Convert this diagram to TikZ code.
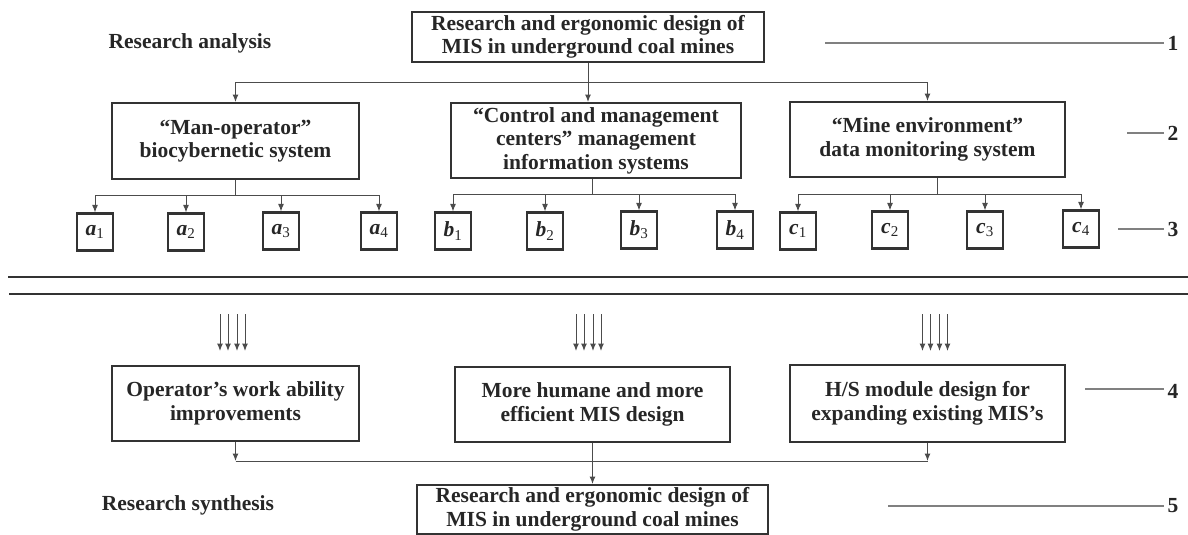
\documentclass[tikz,border=0pt]{standalone}
\usepackage{fontspec}
\setmainfont{Liberation Serif}
\usetikzlibrary{arrows.meta}

\begin{document}
\begin{tikzpicture}[x=1pt,y=-1pt,>={Latex[length=7.5pt,width=6pt]}]
\tikzstyle{every node} = [rectangle, font=\fontsize{21.5}{23.5}\selectfont\bfseries, text=black!85]
\tikzstyle{box} = [draw=black!80, line width=2pt, align=center, inner sep=0pt]
\tikzstyle{leaf} = [draw=black!80, line width=2.2pt, minimum width=36pt, minimum height=37pt, inner sep=0pt]
\tikzstyle{link} = [draw=black!70, line width=1pt]
\tikzstyle{level} = [draw=black!50, line width=1.5pt]
\tikzstyle{rule} = [draw=black!80, line width=2.5pt]
\useasboundingbox (0,0) rectangle (1188,535);

\node (analysis) at (190,43) {Research analysis};
\node (synthesis) at (188,505) {Research synthesis};

\node[box, minimum width=352pt, minimum height=50pt] (top) at (588,37) {Research and ergonomic design of\\MIS in underground coal mines};
\node[box, minimum width=247pt, minimum height=76pt] (sysA) at (235.5,141) {``Man-operator''\\biocybernetic system};
\node[box, minimum width=290pt, minimum height=75pt] (sysB) at (596,140.5) {``Control and management\\centers'' management\\information systems};
\node[box, minimum width=275pt, minimum height=75pt] (sysC) at (927.5,139.5) {``Mine environment''\\data monitoring system};

\node[leaf] (a1) at (95,232) {\textit{a}\textsubscript{\mdseries 1}};
\node[leaf] (a2) at (186,232) {\textit{a}\textsubscript{\mdseries 2}};
\node[leaf] (a3) at (281,231) {\textit{a}\textsubscript{\mdseries 3}};
\node[leaf] (a4) at (379,231) {\textit{a}\textsubscript{\mdseries 4}};
\node[leaf] (b1) at (453,231) {\textit{b}\textsubscript{\mdseries 1}};
\node[leaf] (b2) at (545,231) {\textit{b}\textsubscript{\mdseries 2}};
\node[leaf] (b3) at (639,230) {\textit{b}\textsubscript{\mdseries 3}};
\node[leaf] (b4) at (735,230) {\textit{b}\textsubscript{\mdseries 4}};
\node[leaf] (c1) at (798,231) {\textit{c}\textsubscript{\mdseries 1}};
\node[leaf] (c2) at (890,230) {\textit{c}\textsubscript{\mdseries 2}};
\node[leaf] (c3) at (985,230) {\textit{c}\textsubscript{\mdseries 3}};
\node[leaf] (c4) at (1081,229) {\textit{c}\textsubscript{\mdseries 4}};

\node[box, minimum width=247pt, minimum height=75pt] (op) at (235.5,403.5) {Operator’s work ability\\improvements};
\node[box, minimum width=275pt, minimum height=75pt] (hum) at (592.5,404.5) {More humane and more\\efficient MIS design};
\node[box, minimum width=275pt, minimum height=77pt] (hs) at (927.5,403.5) {H/S module design for\\expanding existing MIS’s};
\node[box, minimum width=351pt, minimum height=49pt] (res) at (592.5,509.5) {Research and ergonomic design of\\MIS in underground coal mines};

\node (n1) at (1173,43) {1};
\node (n2) at (1173,133) {2};
\node (n3) at (1173,229) {3};
\node (n4) at (1173,391) {4};
\node (n5) at (1173,506) {5};
\coordinate (l1) at (825,43);
\coordinate (l2) at (1127,133);
\coordinate (l3) at (1118,229);
\coordinate (l4) at (1085,389);
\coordinate (l5) at (888,506);
\draw[level] (l1) -- (n1.west |- l1);
\draw[level] (l2) -- (n2.west |- l2);
\draw[level] (l3) -- (n3.west |- l3);
\draw[level] (l4) -- (n4.west |- l4);
\draw[level] (l5) -- (n5.west |- l5);

\coordinate (tj) at (588,82);
\draw[link] (top.south) -- (tj);
\draw[link,->] (tj) -| (sysA.north);
\draw[link,->] (tj) -| (sysC.north);
\draw[link,->] (tj) -- (tj |- sysB.north);

\coordinate (aj) at (235.5,195);
\coordinate (bj) at (592,194);
\coordinate (cj) at (937,194);
\draw[link] (sysA.south) -- (aj);
\draw[link] (bj |- sysB.south) -- (bj);
\draw[link] (cj |- sysC.south) -- (cj);
\foreach \i in {1,...,4} {
  \draw[link,->] (aj) -| (a\i.north);
  \draw[link,->] (bj) -| (b\i.north);
  \draw[link,->] (cj) -| (c\i.north);
}

\draw[rule] (8,277) -- (1188,277);
\draw[rule] (9,294) -- (1188,294);

\coordinate (ina) at (232.5,314);
\coordinate (outa) at (232.5,351);
\coordinate (inb) at (588.5,314);
\coordinate (outb) at (588.5,351);
\coordinate (inc) at (935,314);
\coordinate (outc) at (935,351);
\foreach \dx in {-12.5,-4.5,4.5,12.5} {
  \draw[link,->] ([xshift=\dx pt]ina) -- ([xshift=\dx pt]outa);
  \draw[link,->] ([xshift=\dx pt]inb) -- ([xshift=\dx pt]outb);
  \draw[link,->] ([xshift=\dx pt]inc) -- ([xshift=\dx pt]outc);
}

\coordinate (sj) at (592,461);
\draw[link,->] (op.south) -- (op.south |- sj);
\draw[link,->] (hs.south) -- (hs.south |- sj);
\draw[link] (op.south |- sj) -- (hs.south |- sj);
\draw[link,->] (hum.south) -- (res.north);
\end{tikzpicture}
\end{document}
